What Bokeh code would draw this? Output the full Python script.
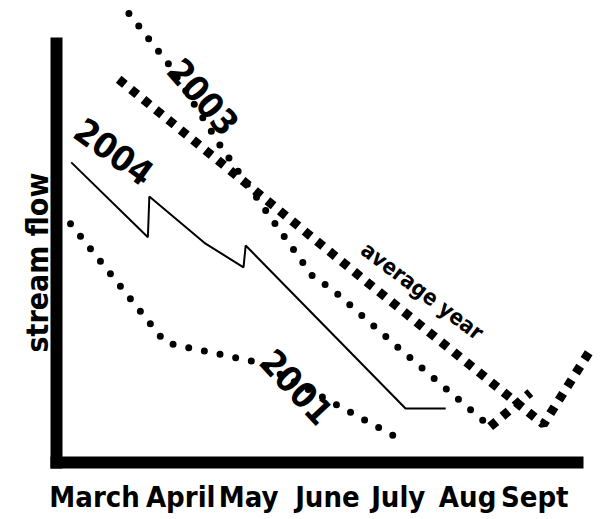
from bokeh.plotting import figure
from bokeh.models import Range1d, FixedTicker, ColumnDataSource, Title
from bokeh.core.properties import value, field
from bokeh.embed import file_html
from bokeh.resources import INLINE

# ---- data -------------------------------------------------------------
months = ["March", "April", "May", "June", "July", "Aug", "Sept"]
# where each hand-lettered month sits along the time axis (in months from March)
month_ticks = [-0.11, 1.07, 2, 3.08, 4.05, 5, 5.92]

# x: position in months (0 = March), y: relative stream flow
flow_2004_x = [-0.43, 0.62, 0.64, 1.41, 1.93, 1.96, 4.15, 4.70]
flow_2004_y = [66.1, 49.6, 58.6, 48.2, 43.0, 47.8, 11.9, 11.9]

flow_2003_x = [0.36, 0.93, 1.62, 2.30, 2.89, 3.12, 4.08, 5.31]
flow_2003_y = [98.9, 87.2, 69.6, 54.0, 40.7, 38.5, 24.9, 7.9]
flow_2003_rise_x = [5.31, 5.86]
flow_2003_rise_y = [7.9, 15.4]

flow_avg_x = [0.22, 3.64, 6.04, 6.68]
flow_avg_y = [84.4, 39.5, 8.4, 24.7]

flow_2001_x = [-0.44, 0.86, 2.14, 4.16]
flow_2001_y = [52.6, 26.4, 22.0, 4.4]

series_names = ["2004", "2003", "average year", "2001"]

# ---- styling / placement ----------------------------------------------
FONT = "'DejaVu Sans Condensed', 'DejaVu Sans', sans-serif"

p = figure(width=600, height=519, output_backend="svg", toolbar_location=None,
           x_range=Range1d(-0.632, 6.821), y_range=Range1d(0, 101.76),
           min_border_left=56, min_border_right=0, min_border_top=0,
           min_border_bottom=57, title=None)
p.grid.visible = False
p.outline_line_color = None
p.background_fill_color = "white"
p.border_fill_color = "white"

# x axis
xa = p.xaxis[0]
xa.ticker = FixedTicker(ticks=month_ticks)
xa.major_label_overrides = {t: m for t, m in zip(month_ticks, months)}
xa.axis_line_width = 12
xa.axis_line_cap = "square"
xa.axis_line_color = "black"
xa.bounds = (-0.632, 6.505)
xa.major_tick_line_color = None
xa.minor_tick_line_color = None
xa.major_label_text_font = FONT
xa.major_label_text_font_style = "bold"
xa.major_label_text_font_size = "29px"
xa.major_label_text_color = "black"
xa.major_label_standoff = 11

# y axis
ya = p.yaxis[0]
ya.ticker = FixedTicker(ticks=[])
ya.axis_line_width = 12
ya.axis_line_cap = "square"
ya.axis_line_color = "black"
ya.bounds = (0, 92.3)
ya.major_tick_line_color = None
ya.minor_tick_line_color = None
ya.major_label_text_font_size = "0px"

ytitle = Title(text="stream flow", align="left", offset=110, standoff=3,
               text_font_size="30px", text_font_style="bold", text_font=FONT,
               text_color="black")
p.add_layout(ytitle, "left")

# series
p.line(flow_2004_x, flow_2004_y, line_width=2, line_color="black")
p.line(flow_2003_x, flow_2003_y, line_width=7, line_color="black",
       line_dash="0 16", line_cap="round")
p.line(flow_2003_rise_x, flow_2003_rise_y, line_width=9, line_color="black",
       line_dash="8 8", line_cap="butt")
p.line(flow_avg_x, flow_avg_y, line_width=9, line_color="black",
       line_dash="8 8", line_cap="butt")
p.line(flow_2001_x, flow_2001_y, line_width=7, line_color="black",
       line_dash="0 16", line_cap="round")

# series labels anchored on a point of each series, shifted in pixels
anchors = [(flow_2004_x[0], flow_2004_y[0]),
           (flow_2003_x[1], flow_2003_y[1]),
           (flow_avg_x[1], flow_avg_y[1]),
           (flow_2001_x[2], flow_2001_y[2])]
lab = ColumnDataSource(dict(
    x=[a[0] for a in anchors],
    y=[a[1] for a in anchors],
    text=series_names,
    xo=[43, 33, 54, 38],
    yo=[-11, 30, 8, 24],
    angle=[-36, -49, -37, -47],
    size=["35px", "35px", "22px", "35px"],
))
p.text(x="x", y="y", text="text", source=lab, angle="angle", angle_units="deg",
       x_offset="xo", y_offset="yo", text_font_size=field("size"),
       text_font=value(FONT), text_font_style="bold", text_color="black",
       text_align="center", text_baseline="middle")

open("out.html", "w").write(file_html(p, INLINE, title="stream flow"))
